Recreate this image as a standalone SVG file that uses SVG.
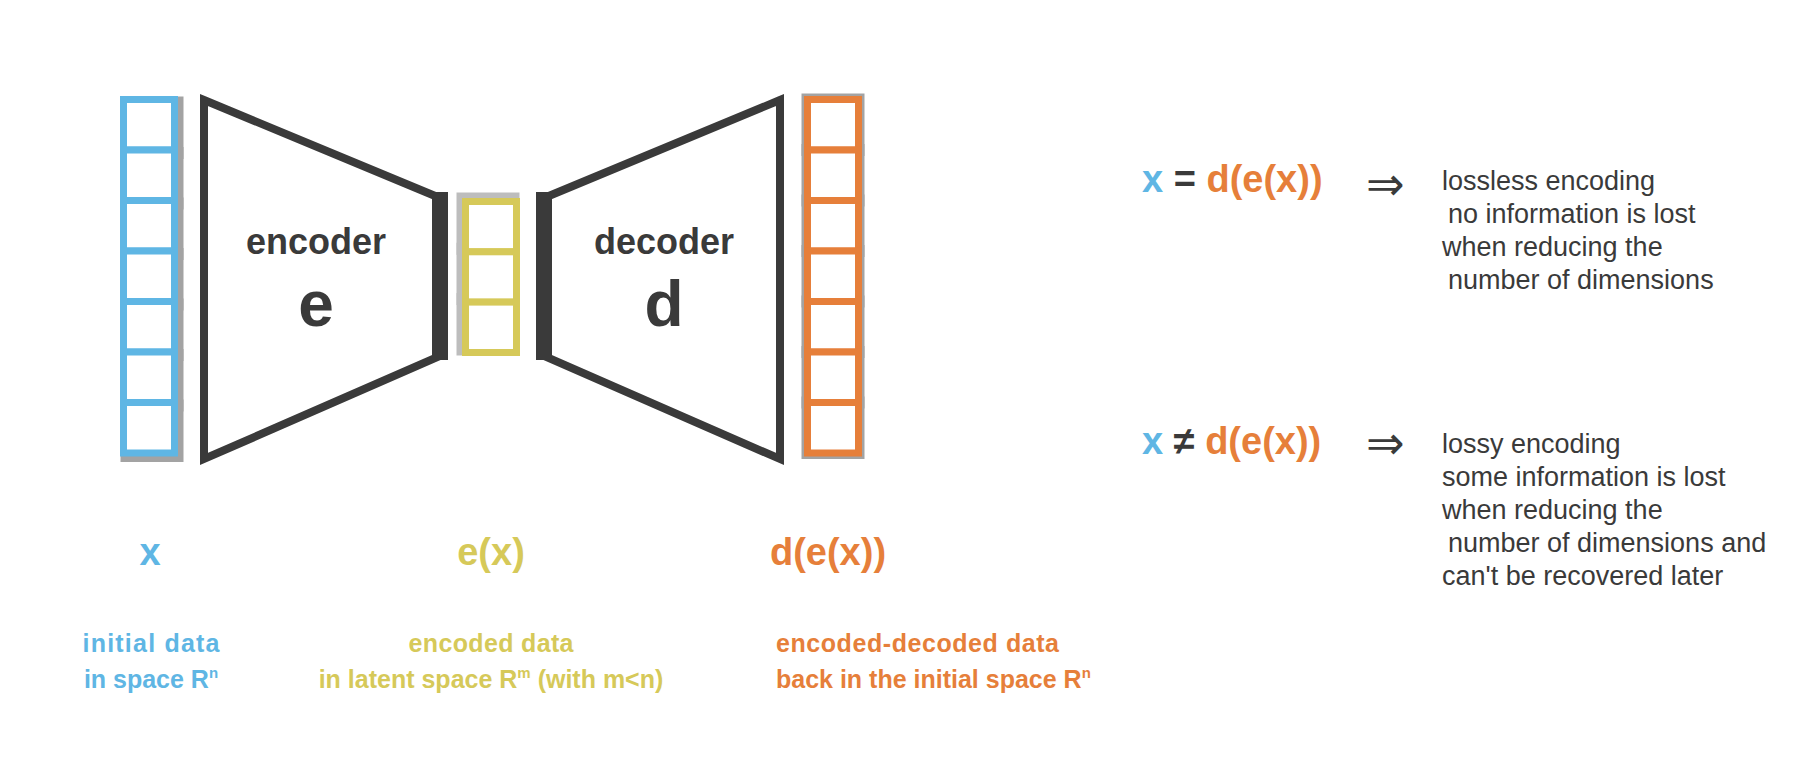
<svg xmlns="http://www.w3.org/2000/svg" width="1815" height="764" viewBox="0 0 1815 764">
<style>
.bg{fill:#ffffff}
.halo{fill:none;stroke:#a3a3a3;stroke-width:12}
.haloY{fill:none;stroke:#bdbdbd;stroke-width:12}
.cb{fill:#ffffff;stroke:#5fb6e4;stroke-width:7}
.cy{fill:#ffffff;stroke:#d6c959;stroke-width:7}
.co{fill:#ffffff;stroke:#e67f3a;stroke-width:7}
.trap{fill:none;stroke:#3a3a3a;stroke-width:8;stroke-linejoin:miter}
.bar{fill:#3a3a3a}
.lbl{font-family:"Liberation Sans",Arial,sans-serif;font-weight:bold;fill:#3a3a3a;text-anchor:middle}
.f{font-family:"Liberation Sans",Arial,sans-serif;font-weight:bold;font-size:38px}
.blue{fill:#5fb6e4}
.yel{fill:#d6c959}
.ora{fill:#e67f3a}
.dark{fill:#3a3a3a}
.desc{font-family:"Liberation Sans",Arial,sans-serif;font-size:27px;fill:#3a3a3a}
.cap{font-family:"Liberation Sans",Arial,sans-serif;font-weight:bold;font-size:25px}
.arr{font-family:"DejaVu Sans",sans-serif;font-size:46px;fill:#3a3a3a}
</style>
<defs>
<g id="cells7">
<rect x="123.5" y="99.5" width="51" height="50.5"/>
<rect x="123.5" y="150" width="51" height="50.5"/>
<rect x="123.5" y="200.5" width="51" height="50.5"/>
<rect x="123.5" y="251" width="51" height="50.5"/>
<rect x="123.5" y="301.5" width="51" height="50.5"/>
<rect x="123.5" y="352" width="51" height="50.5"/>
<rect x="123.5" y="402.5" width="51" height="50.5"/>
</g>
<g id="cells3">
<rect x="465.5" y="201.5" width="51" height="50.3"/>
<rect x="465.5" y="251.8" width="51" height="50.3"/>
<rect x="465.5" y="302.1" width="51" height="50.4"/>
</g>
</defs>
<rect class="bg" x="0" y="0" width="1815" height="764"/>

<g id="input-column">
<use href="#cells7" class="halo" transform="translate(3,3)"/>
<use href="#cells7" class="cb"/>
</g>

<g id="encoder">
<path class="trap" d="M204,100 L440,198 L440,356 L204,459 Z"/>
<rect class="bar" x="432" y="192" width="16" height="168"/>
<text class="lbl" x="316" y="254" font-size="36">encoder</text>
<text class="lbl" x="316" y="326" font-size="64">e</text>
</g>

<g id="latent-column">
<use href="#cells3" class="haloY" transform="translate(-3,-3)"/>
<use href="#cells3" class="cy"/>
</g>

<g id="decoder">
<path class="trap" d="M780,100 L544,198 L544,356 L780,459 Z"/>
<rect class="bar" x="536" y="192" width="16" height="168"/>
<text class="lbl" x="664" y="254" font-size="36">decoder</text>
<text class="lbl" x="664" y="326" font-size="64">d</text>
</g>

<g id="output-column">
<use href="#cells7" class="halo" transform="translate(684,0)"/>
<use href="#cells7" class="co" transform="translate(684,0)"/>
</g>

<g id="connectors"></g>

<g id="labels">
<text class="f blue" x="150" y="565" text-anchor="middle">x</text>
<text class="f yel" x="491" y="565" text-anchor="middle">e(x)</text>
<text class="f ora" x="828" y="565" text-anchor="middle">d(e(x))</text>

<text class="cap blue" x="151" y="652" text-anchor="middle" textLength="137" lengthAdjust="spacing">initial data</text>
<text class="cap blue" x="151" y="688" text-anchor="middle">in space R<tspan font-size="15" dy="-10">n</tspan></text>

<text class="cap yel" x="491" y="652" text-anchor="middle" textLength="165" lengthAdjust="spacing">encoded data</text>
<text class="cap yel" x="491" y="688" text-anchor="middle">in latent space R<tspan font-size="15" dy="-10">m</tspan><tspan dy="10"> (with m&lt;n)</tspan></text>

<text class="cap ora" x="776" y="652" textLength="283" lengthAdjust="spacing">encoded-decoded data</text>
<text class="cap ora" x="776" y="688">back in the initial space R<tspan font-size="15" dy="-10">n</tspan></text>
</g>

<g id="lossless">
<text class="f" x="1142" y="192"><tspan class="blue">x</tspan><tspan class="dark"> = </tspan><tspan class="ora">d(e(x))</tspan></text>
<text class="arr" x="1366" y="200">⇒</text>
<text class="desc" x="1442" y="190">lossless encoding</text>
<text class="desc" x="1448" y="223">no information is lost</text>
<text class="desc" x="1442" y="256">when reducing the</text>
<text class="desc" x="1448" y="289">number of dimensions</text>
</g>

<g id="lossy">
<text class="f" x="1142" y="454"><tspan class="blue">x</tspan><tspan class="dark"> ≠ </tspan><tspan class="ora">d(e(x))</tspan></text>
<text class="arr" x="1366" y="459">⇒</text>
<text class="desc" x="1442" y="453">lossy encoding</text>
<text class="desc" x="1442" y="486">some information is lost</text>
<text class="desc" x="1442" y="519">when reducing the</text>
<text class="desc" x="1448" y="552">number of dimensions and</text>
<text class="desc" x="1442" y="585">can't be recovered later</text>
</g>
</svg>
